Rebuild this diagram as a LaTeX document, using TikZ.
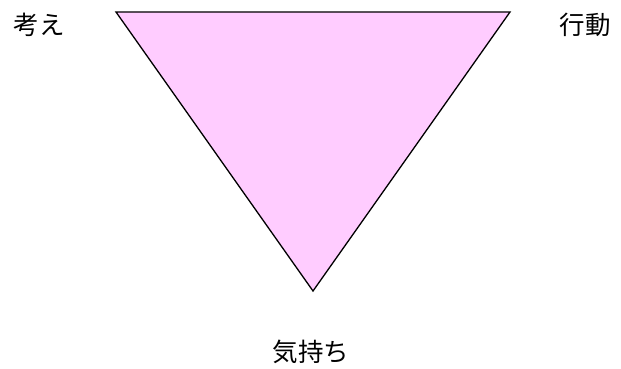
\documentclass[tikz,border=0pt]{standalone}
\usepackage{fontspec}
\newfontfamily\cjk{Noto Sans CJK JP}
\usetikzlibrary{positioning}
\definecolor{feelpink}{HTML}{FFCCFF}

\begin{document}
\begin{tikzpicture}[
  x=1pt, y=-1pt,
  corner/.style={font=\cjk\fontsize{25.5}{25.5}\selectfont, inner sep=0pt},
  tri/.style={draw=black, fill=feelpink, line width=1.3pt, line join=miter}
]
\useasboundingbox (0,0) rectangle (621,369);
\coordinate (think) at (116,12);
\coordinate (act) at (510,12);
\coordinate (feel) at (313,291);
\filldraw[tri] (think) -- (act) -- (feel) -- cycle;

\node[corner] (lthink) at (39,25) {考え};
\node[corner] (lact) at (585,25) {行動};
\node[corner] (lfeel) at (311,352) {気持ち};
\end{tikzpicture}
\end{document}
